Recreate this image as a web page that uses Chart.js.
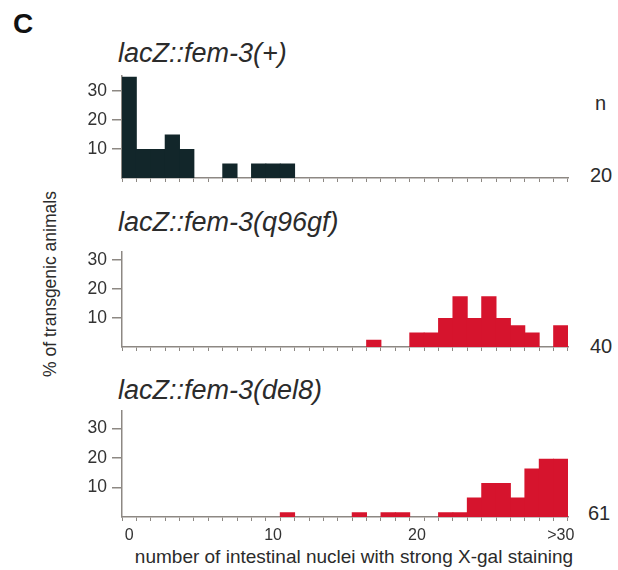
<!DOCTYPE html>
<html><head><meta charset="utf-8">
<script src="https://cdn.jsdelivr.net/npm/chart.js@4"></script>
<style>
html,body{margin:0;padding:0;background:#fff;}
body{width:618px;height:570px;position:relative;overflow:hidden;font-family:"Liberation Sans",Arial,sans-serif;color:#2b2b2b;}
canvas{position:absolute;left:0;}
.t{position:absolute;white-space:nowrap;line-height:1;}
</style></head><body>
<div class="t" style="left:13px;top:10px;font-weight:bold;font-size:28px;color:#111;">C</div>
<div class="t" style="left:118px;top:40px;font-style:italic;font-size:27px;">lacZ::fem-3(+)</div>
<div class="t" style="left:118px;top:208.6px;font-style:italic;font-size:27px;">lacZ::fem-3(q96gf)</div>
<div class="t" style="left:118px;top:377px;font-style:italic;font-size:27px;">lacZ::fem-3(del8)</div>
<div class="t" style="left:595px;top:93px;font-size:20px;">n</div>
<div class="t" style="left:590px;top:165px;font-size:20px;">20</div>
<div class="t" style="left:590px;top:336px;font-size:20px;">40</div>
<div class="t" style="left:588px;top:503px;font-size:20px;">61</div>
<div class="t" style="left:50.5px;top:284px;font-size:17.5px;transform:translate(-50%,-50%) rotate(-90deg);">% of transgenic animals</div>
<div class="t" style="left:354px;top:547px;font-size:19px;transform:translateX(-50%);">number of intestinal nuclei with strong X-gal staining</div>
<canvas id="p1" width="618" height="151" style="top:60px"></canvas>
<canvas id="p2" width="618" height="144" style="top:236px"></canvas>
<canvas id="p3" width="618" height="155" style="top:395px"></canvas>
<script>
// categories: number of intestinal nuclei with strong X-gal staining
const categories = ['0','1','2','3','4','5','6','7','8','9','10','11','12','13','14','15','16','17','18','19','20','21','22','23','24','25','26','27','28','29','>30'];
const shownTicks = ['0','10','20','>30'];
const yTicks = [10,20,30];
// % of transgenic animals
const fem3Plus  = [35,10,10,15,10,0,0,5,0,5,5,5,0,0,0,0,0,0,0,0,0,0,0,0,0,0,0,0,0,0,0];
const fem3Q96gf = [0,0,0,0,0,0,0,0,0,0,0,0,0,0,0,0,0,2.5,0,0,5,5,10,17.5,10,17.5,10,7.5,5,0,7.5];
const fem3Del8  = [0,0,0,0,0,0,0,0,0,0,0,1.6,0,0,0,0,1.6,0,1.6,1.6,0,0,1.6,1.6,6.6,11.5,11.5,6.6,16.4,19.7,19.7];

const AXIS = '#8d8883';
const TXT = '#333';
const FAMILY = '"Liberation Sans", Arial, sans-serif';

function makePanel(id, values, color, yMax, showX) {
  new Chart(document.getElementById(id), {
    type: 'bar',
    data: {
      labels: categories,
      datasets: [{
        data: values.map(v => v === 0 ? null : v),
        backgroundColor: color,
        borderWidth: 0,
        barPercentage: 1.06,
        categoryPercentage: 1
      }]
    },
    options: {
      responsive: false,
      animation: false,
      devicePixelRatio: 1,
      layout: { padding: { top: 10, right: 50, left: 0, bottom: 0 } },
      plugins: { legend: { display: false }, tooltip: { enabled: false } },
      scales: {
        x: {
          grid: { offset: true, drawOnChartArea: false, drawTicks: true, tickLength: 4, color: AXIS, lineWidth: 1 },
          border: { display: true, color: AXIS, width: 1.5 },
          ticks: {
            autoSkip: false, maxRotation: 0, minRotation: 0, padding: 5, color: TXT,
            font: { family: FAMILY, size: 16 },
            callback: function (v, i) { const l = categories[i]; return (showX && shownTicks.includes(l)) ? l : ''; }
          },
          afterFit: s => { s.height = 33; }
        },
        y: {
          min: 0, max: yMax,
          afterBuildTicks: s => { s.ticks = yTicks.map(v => ({ value: v })); },
          grid: { drawOnChartArea: false, drawTicks: true, tickLength: 10, color: AXIS, lineWidth: 1.5 },
          border: { display: true, color: AXIS, width: 1.5 },
          ticks: { padding: 5, color: TXT, font: { family: FAMILY, size: 17.5 } },
          afterFit: s => { s.width = 122; }
        }
      }
    }
  });
}
makePanel('p1', fem3Plus, '#12262a', 35.4, false);
makePanel('p2', fem3Q96gf, '#d6142d', 33, false);
makePanel('p3', fem3Del8, '#d6142d', 36, true);
</script>
</body></html>
